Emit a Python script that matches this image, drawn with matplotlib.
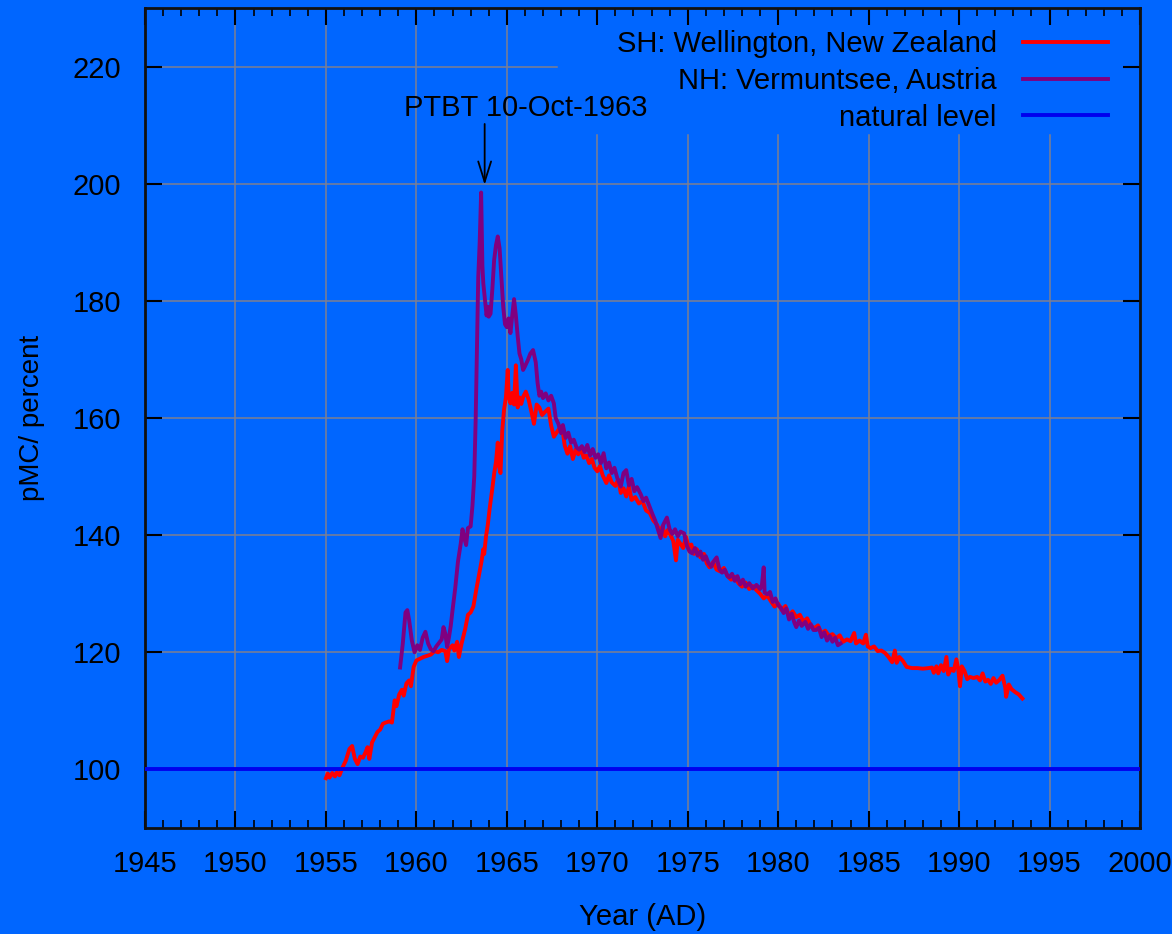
import matplotlib
matplotlib.use("Agg")
import matplotlib.pyplot as plt
import numpy as np

# ---------------- data ----------------
sh_year = [1955.0, 1955.1, 1955.2, 1955.35, 1955.5, 1955.6, 1955.75, 1955.9, 1956.1, 1956.3,
           1956.45, 1956.6, 1956.75, 1956.9, 1957.05, 1957.2, 1957.3, 1957.4, 1957.55, 1957.7,
           1957.85, 1958.0, 1958.15, 1958.3, 1958.5, 1958.65, 1958.8, 1958.9, 1959.05, 1959.2,
           1959.3, 1959.45, 1959.6, 1959.7, 1959.85, 1960.0, 1960.2, 1960.4, 1960.6, 1960.8,
           1961.0, 1961.2, 1961.4, 1961.6, 1961.7, 1961.8, 1962.0, 1962.1, 1962.25, 1962.35,
           1962.5, 1962.7, 1962.85, 1963.0, 1963.15, 1963.3, 1963.45, 1963.6, 1963.7, 1963.75,
           1963.85, 1963.95, 1964.05, 1964.2, 1964.3, 1964.4, 1964.5, 1964.55, 1964.65, 1964.75,
           1964.85, 1964.95, 1965.05, 1965.1, 1965.2, 1965.3, 1965.4, 1965.5, 1965.6, 1965.7,
           1965.8, 1965.9, 1966.05, 1966.2, 1966.35, 1966.5, 1966.65, 1966.8, 1966.95, 1967.1,
           1967.3, 1967.45, 1967.6, 1967.75, 1967.9, 1968.05, 1968.2, 1968.35, 1968.5, 1968.65,
           1968.8, 1968.95, 1969.1, 1969.25, 1969.4, 1969.55, 1969.7, 1969.85, 1970.0, 1970.15,
           1970.3, 1970.5, 1970.65, 1970.8, 1971.0, 1971.15, 1971.3, 1971.45, 1971.6, 1971.75,
           1971.9, 1972.1, 1972.3, 1972.5, 1972.7, 1972.9, 1973.1, 1973.3, 1973.5, 1973.6,
           1973.75, 1973.9, 1974.05, 1974.2, 1974.35, 1974.45, 1974.6, 1974.75, 1974.9, 1975.05,
           1975.2, 1975.35, 1975.5, 1975.7, 1975.9, 1976.05, 1976.2, 1976.4, 1976.6, 1976.8,
           1977.0, 1977.2, 1977.4, 1977.6, 1977.8, 1978.0, 1978.2, 1978.4, 1978.6, 1978.8,
           1979.0, 1979.2, 1979.4, 1979.6, 1979.8, 1980.0, 1980.2, 1980.4, 1980.6, 1980.8,
           1981.0, 1981.2, 1981.4, 1981.6, 1981.8, 1982.0, 1982.2, 1982.4, 1982.6, 1982.8,
           1983.0, 1983.2, 1983.4, 1983.6, 1983.8, 1984.0, 1984.2, 1984.3, 1984.5, 1984.7,
           1984.85, 1984.95, 1985.1, 1985.3, 1985.5, 1985.7, 1985.9, 1986.1, 1986.3, 1986.45,
           1986.55, 1986.7, 1986.9, 1987.1, 1987.4, 1987.7, 1988.0, 1988.3, 1988.5, 1988.6,
           1988.75, 1988.85, 1989.0, 1989.15, 1989.3, 1989.4, 1989.55, 1989.7, 1989.85, 1989.95,
           1990.05, 1990.15, 1990.3, 1990.45, 1990.6, 1990.8, 1991.0, 1991.15, 1991.3, 1991.45,
           1991.6, 1991.75, 1991.9, 1992.05, 1992.2, 1992.4, 1992.55, 1992.6, 1992.75, 1992.9,
           1993.1, 1993.3, 1993.5]
sh_pmc = [98.5, 99.3, 98.6, 99.4, 98.8, 99.5, 99.0, 100.2, 101.5, 103.5,
          104.0, 101.8, 100.9, 102.2, 102.0, 103.0, 103.8, 101.8, 104.6, 105.5,
          106.4, 106.8, 107.8, 108.0, 108.2, 108.0, 111.8, 110.8, 112.8, 113.6,
          112.6, 114.7, 115.2, 114.2, 117.5, 118.6, 118.9, 119.2, 119.4, 119.6,
          120.2, 120.0, 120.4, 120.2, 118.5, 120.5, 121.2, 120.3, 121.8, 119.2,
          121.5, 124.0, 126.4, 126.8, 127.8, 130.5, 133.0, 135.5, 137.6, 136.8,
          139.8, 141.8, 144.5, 148.0, 150.5, 152.5, 155.8, 152.0, 150.6, 158.0,
          161.5, 163.5, 168.2, 164.0, 162.5, 164.3, 162.3, 169.0, 161.8, 163.5,
          162.4, 163.6, 164.5, 163.2, 161.2, 159.0, 162.3, 161.8, 160.5, 161.0,
          161.6, 158.7, 156.8, 157.5, 158.2, 158.6, 155.3, 153.9, 155.2, 153.0,
          154.6, 153.8, 154.8, 153.2, 153.6, 152.3, 153.0, 151.5, 150.9, 151.8,
          150.2, 148.9, 150.2, 149.0, 148.4, 149.5, 147.2, 148.0, 146.6, 148.3,
          146.0, 146.5, 145.4, 145.8, 144.2, 143.8, 142.5, 141.8, 140.3, 141.5,
          139.8, 140.9, 140.0, 139.0, 135.7, 139.2, 138.5, 137.8, 139.7, 138.0,
          138.4, 136.8, 137.6, 136.2, 136.8, 135.2, 134.5, 135.4, 134.1, 133.8,
          134.4, 133.0, 132.4, 132.9, 131.8, 131.2, 131.9, 130.8, 131.3, 130.6,
          130.0, 129.2, 129.7, 128.7, 127.8, 128.3, 127.2, 127.9, 126.3, 127.0,
          126.0, 126.4, 125.2, 125.8, 124.6, 124.1, 124.6, 123.2, 123.7, 122.8,
          123.1, 122.4, 122.9, 121.8, 122.2, 121.9, 123.3, 121.5, 122.0, 121.5,
          123.0, 121.0, 120.7, 121.0, 120.2, 120.3, 119.9, 119.2, 118.3, 120.3,
          118.2, 119.2, 118.5, 117.5, 117.3, 117.3, 117.2, 117.3, 117.4, 116.5,
          117.6, 116.4, 117.8, 116.8, 119.2, 116.2, 117.2, 116.8, 118.8, 117.2,
          114.2, 117.6, 116.8, 115.4, 115.8, 115.6, 115.8, 115.2, 116.4, 115.0,
          115.3, 114.6, 115.6, 114.8, 115.2, 116.0, 114.0, 112.4, 114.5, 113.7,
          113.2, 112.8, 112.1]

nh_year = [1959.1, 1959.25, 1959.4, 1959.5, 1959.6, 1959.75, 1959.9, 1960.05, 1960.2, 1960.35,
           1960.5, 1960.65, 1960.8, 1960.95, 1961.1, 1961.25, 1961.4, 1961.5, 1961.6, 1961.7,
           1961.8, 1961.9, 1962.0, 1962.15, 1962.3, 1962.45, 1962.55, 1962.65, 1962.75, 1962.85,
           1963.0, 1963.1, 1963.2, 1963.28, 1963.35, 1963.42, 1963.5, 1963.58, 1963.65, 1963.7,
           1963.8, 1963.88, 1963.95, 1964.0, 1964.1, 1964.2, 1964.3, 1964.4, 1964.5, 1964.6,
           1964.7, 1964.8, 1964.9, 1965.0, 1965.1, 1965.2, 1965.3, 1965.4, 1965.5, 1965.6,
           1965.7, 1965.8, 1965.9, 1966.0, 1966.15, 1966.3, 1966.45, 1966.6, 1966.7, 1966.8,
           1966.9, 1967.0, 1967.15, 1967.3, 1967.45, 1967.6, 1967.7, 1967.85, 1968.0, 1968.1,
           1968.25, 1968.4, 1968.55, 1968.7, 1968.85, 1969.0, 1969.15, 1969.3, 1969.45, 1969.6,
           1969.75, 1969.9, 1970.05, 1970.2, 1970.35, 1970.5, 1970.65, 1970.8, 1970.95, 1971.1,
           1971.3, 1971.45, 1971.6, 1971.75, 1971.9, 1972.05, 1972.2, 1972.4, 1972.55, 1972.7,
           1972.9, 1973.05, 1973.2, 1973.35, 1973.5, 1973.65, 1973.85, 1974.0, 1974.15, 1974.3,
           1974.45, 1974.6, 1974.8, 1974.95, 1975.1, 1975.25, 1975.4, 1975.55, 1975.7, 1975.85,
           1976.0, 1976.15, 1976.3, 1976.45, 1976.6, 1976.75, 1976.9, 1977.05, 1977.2, 1977.3,
           1977.45, 1977.6, 1977.75, 1977.9, 1978.05, 1978.2, 1978.4, 1978.6, 1978.8, 1979.0,
           1979.1, 1979.2, 1979.25, 1979.4, 1979.55, 1979.7, 1979.85, 1980.0, 1980.15, 1980.3,
           1980.45, 1980.6, 1980.75, 1980.9, 1981.0, 1981.15, 1981.3, 1981.5, 1981.65, 1981.8,
           1981.95, 1982.1, 1982.25, 1982.4, 1982.55, 1982.7, 1982.85, 1983.0, 1983.15, 1983.3,
           1983.45]
nh_pmc = [117.4, 121.5, 126.8, 127.2, 125.5, 122.0, 120.0, 121.2, 120.4, 122.5,
          123.5, 121.5, 120.5, 120.2, 121.0, 121.6, 122.2, 124.3, 123.2, 120.9,
          122.5, 124.5, 127.2, 131.0, 135.5, 138.5, 141.0, 139.5, 138.3, 141.2,
          141.5, 145.0, 150.0, 160.0, 172.0, 184.0, 190.0, 198.5, 186.0, 183.0,
          180.0, 177.5, 179.0, 177.3, 177.8, 182.0, 187.0, 189.5, 191.0, 189.0,
          184.0, 179.0, 176.0, 175.5, 177.0, 174.5, 177.5, 180.3, 177.5, 174.0,
          171.0, 170.0, 168.2, 168.8, 169.8, 171.0, 171.6, 169.5, 166.0, 163.8,
          164.5, 163.4, 164.2, 163.0, 163.8, 162.5, 160.0, 159.0, 157.4, 158.8,
          156.6, 157.5, 155.8, 156.3, 155.0, 154.6, 155.2, 154.2, 155.4, 153.6,
          154.7, 153.2, 153.8, 152.3, 154.0, 151.4, 152.4, 150.6, 151.5, 149.8,
          148.3, 150.6, 151.1, 148.5, 149.6, 147.5, 148.2, 147.0, 145.8, 146.4,
          144.8, 143.6, 142.5, 141.0, 139.5, 141.8, 143.0, 141.0, 140.2, 141.0,
          139.8, 140.6, 140.3, 138.2, 137.2, 136.9, 137.8, 136.5, 137.2, 135.8,
          136.4, 135.2, 134.6, 135.6, 136.2, 134.2, 133.6, 134.1, 133.0, 132.8,
          133.4, 132.2, 133.0, 131.6, 132.4, 131.2, 131.8, 130.9, 131.5, 130.8,
          131.5, 134.5, 130.2, 129.9, 130.3, 128.6, 129.2, 128.0, 127.6, 126.7,
          127.5, 125.6, 126.6, 125.0, 124.3, 125.4, 124.5, 125.2, 124.0, 124.8,
          123.8, 123.8, 124.2, 122.6, 123.4, 122.0, 122.8, 121.8, 122.5, 121.2,
          121.5]

natural_level = 100
labels = ["SH: Wellington, New Zealand", "NH: Vermuntsee, Austria", "natural level"]
annot_text = "PTBT 10-Oct-1963"
annot_year = 1963.775
x_ticks = list(range(1945, 2001, 5))
y_ticks = list(range(100, 221, 20))

# ---------------- style ----------------
BG = "#0066ff"
FS = 21
plt.rcParams["font.family"] = ["Liberation Sans", "DejaVu Sans"]
plt.rcParams["font.size"] = FS

fig = plt.figure(figsize=(11.72, 9.34), dpi=100, facecolor=BG)
ax = fig.add_axes([145 / 1172, 1 - 828 / 934, (1140 - 145) / 1172, (828 - 8) / 934])
ax.set_facecolor(BG)

xmin, xmax, ymin, ymax = 1945, 2000, 90, 230
ax.set_xlim(xmin, xmax)
ax.set_ylim(ymin, ymax)

# grid (interrupted by the legend area, as in the reference)
legend_left_x = 1967.8
legend_bottom_y = 208.4
grid_kw = dict(color="#7f7f8f", lw=1.1, zorder=1)
for xv in x_ticks[1:-1]:
    top = ymax if xv < legend_left_x else legend_bottom_y
    ax.plot([xv, xv], [ymin, top], **grid_kw)
for yv in y_ticks:
    right = xmax if yv < legend_bottom_y else legend_left_x
    ax.plot([xmin, right], [yv, yv], **grid_kw)

LW = 2.8
ax.plot(sh_year, sh_pmc, color="#ff0000", lw=LW, label=labels[0], zorder=3)
ax.plot(nh_year, nh_pmc, color="#800080", lw=LW, label=labels[1], zorder=3)
ax.axhline(natural_level, color="#0000ee", lw=LW, label=labels[2], zorder=3)

# annotation
ax.annotate("", xy=(annot_year, 199.8), xytext=(annot_year, 210.2),
            arrowprops=dict(arrowstyle="->,head_length=0.7,head_width=0.22",
                            color="black", lw=1.3, shrinkA=0, shrinkB=0), zorder=5)
ax.text(1966.05, 213.0, annot_text, ha="center", va="center", fontsize=FS, zorder=5)

# ticks
ax.set_xticks(x_ticks)
ax.set_xticks(np.arange(1945, 2001, 1), minor=True)
ax.set_yticks(y_ticks)
ax.tick_params(axis="both", which="major", direction="in", length=12, width=1.5,
               top=True, right=True, colors="black", labelsize=FS)
ax.tick_params(axis="x", which="minor", direction="in", length=6, width=1.2,
               top=True, bottom=True)
ax.tick_params(axis="x", which="major", pad=16)
ax.tick_params(axis="y", which="major", pad=17)
for s in ax.spines.values():
    s.set_linewidth(2)
    s.set_color("#111111")

ax.set_xlabel("Year (AD)", fontsize=FS, labelpad=18)
ax.set_ylabel("pMC/ percent", fontsize=20, labelpad=20)

leg = ax.legend(loc="upper right", bbox_to_anchor=((1108 - 145) / 995, (828 - 30) / 820),
                markerfirst=False, frameon=False, borderpad=0,
                handlelength=85 / 29.2, handletextpad=0.9, labelspacing=0.3,
                borderaxespad=0, fontsize=FS)
for t in leg.get_texts():
    t.set_ha("right")

fig.savefig("out.png", dpi=100, facecolor=BG)
